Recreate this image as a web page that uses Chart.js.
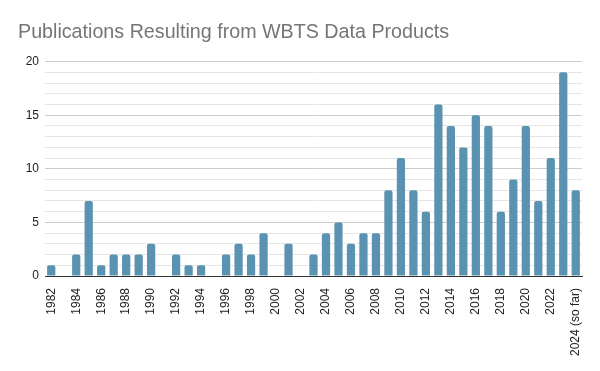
<!DOCTYPE html>
<html>
<head>
<meta charset="utf-8">
<script src="https://cdn.jsdelivr.net/npm/chart.js@4"></script>
<style>
  html, body { margin: 0; padding: 0; background: #fff; }
  #wrap { width: 600px; height: 371px; }
</style>
</head>
<body>
<div id="wrap"><canvas id="pubChart" width="600" height="371"></canvas></div>
<script>
// Data
const years = ['1982', '1983', '1984', '1985', '1986', '1987', '1988', '1989', '1990', '1991',
    '1992', '1993', '1994', '1995', '1996', '1997', '1998', '1999', '2000', '2001',
    '2002', '2003', '2004', '2005', '2006', '2007', '2008', '2009', '2010', '2011',
    '2012', '2013', '2014', '2015', '2016', '2017', '2018', '2019', '2020', '2021',
    '2022', '2023', '2024 (so far)'];
const publications = [1, 0, 2, 7, 1, 2, 2, 2, 3, 0,
    2, 1, 1, 0, 2, 3, 2, 4, 0, 3,
    0, 2, 4, 5, 3, 4, 4, 8, 11, 8,
    6, 16, 14, 12, 15, 14, 6, 9, 14, 7,
    11, 19, 8];
const yTicks = [0, 5, 10, 15, 20];

Chart.defaults.font.family = "'Liberation Sans', Arial, sans-serif";

const ctx = document.getElementById('pubChart').getContext('2d');
const pubChart = new Chart(ctx, {
    type: 'bar',
    data: {
        labels: years,
        datasets: [{
            label: 'Publications',
            data: publications,
            backgroundColor: '#5a93b1',
            barPercentage: 0.66,
            categoryPercentage: 1,
            borderRadius: { topLeft: 2, topRight: 2 },
            borderSkipped: 'bottom'
        }]
    },
    options: {
        responsive: false,
        animation: false,
        layout: { padding: { left: 18, right: 18, top: 0, bottom: 0 } },
        plugins: {
            legend: { display: false },
            tooltip: { enabled: false },
            title: {
                display: true,
                text: 'Publications Resulting from WBTS Data Products',
                align: 'start',
                color: '#757575',
                font: { size: 19.7, weight: 'normal' },
                padding: { top: 21, bottom: 17 }
            }
        },
        scales: {
            x: {
                grid: { display: false },
                border: { color: '#333333', width: 1 },
                ticks: {
                    autoSkip: false,
                    maxRotation: 90,
                    minRotation: 90,
                    color: '#222222',
                    font: { size: 12 },
                    padding: 4,
                    callback: function (val, idx) {
                        return idx % 2 === 0 ? years[idx] : '';
                    }
                },
                afterFit: function (scale) { scale.height = 95; }
            },
            y: {
                min: 0,
                max: 20,
                border: { display: false },
                grid: {
                    color: ctx => yTicks.includes(ctx.tick.value) ? '#cccccc' : '#e5e5e5',
                    drawTicks: false
                },
                ticks: {
                    autoSkip: false,
                    stepSize: 1,
                    color: '#222222',
                    font: { size: 12 },
                    padding: 6,
                    callback: v => yTicks.includes(v) ? v : ''
                },
                afterFit: function (scale) { scale.width = 27; }
            }
        }
    }
});
</script>
</body>
</html>
